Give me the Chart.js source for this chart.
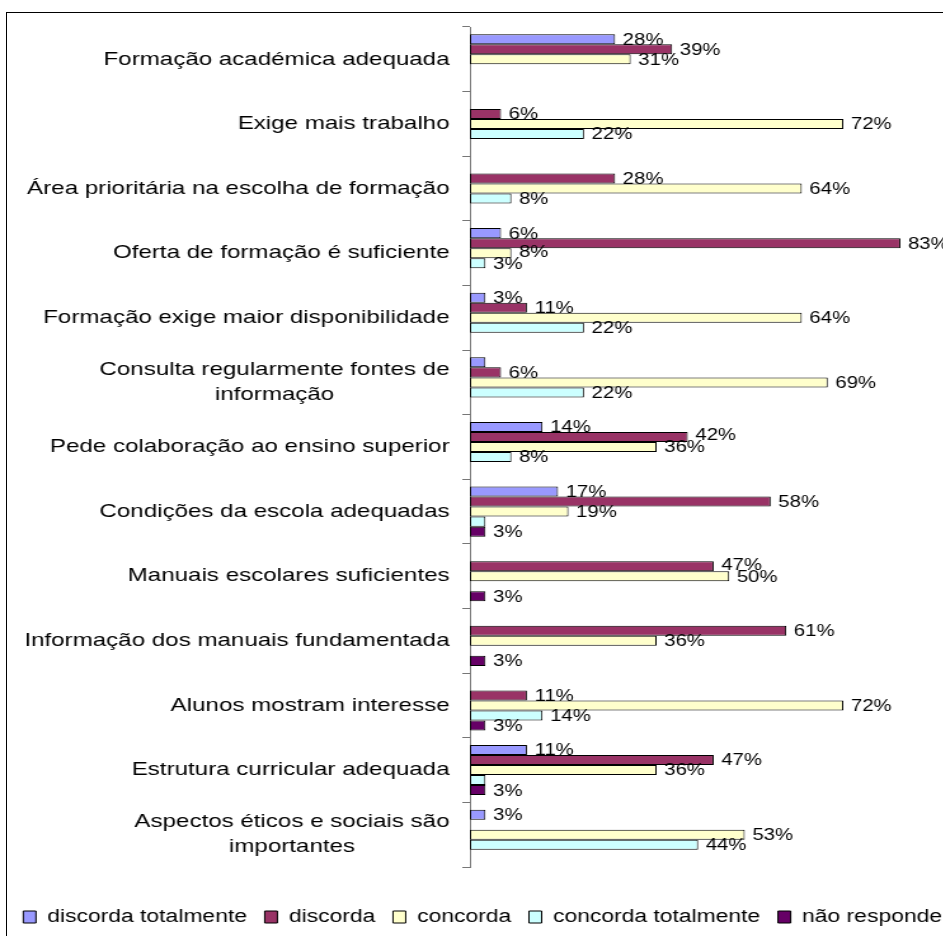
<!DOCTYPE html>
<html>
<head>
<meta charset="utf-8">
<script src="https://cdn.jsdelivr.net/npm/chart.js@4.4.1/dist/chart.umd.min.js"></script>
<style>
    html, body { margin: 0; padding: 0; background: #fff; overflow: hidden; width: 943px; height: 936px; }
    #frame { position: absolute; left: 6px; top: 12px; width: 1200px; height: 1200px; border: 1px solid #000; box-sizing: border-box; }
    /* the original picture is stretched sideways, so the chart is too */
    #wrap { position: absolute; left: 0; top: 0; width: 760px; height: 936px; transform: scaleX(1.27); transform-origin: 0 0; }
</style>
</head>
<body>
<div id="frame"></div>
<div id="wrap"><canvas id="chart"></canvas></div>
<script>
// ========== DATA ==========
const categories = [
    'Formação académica adequada',
    'Exige mais trabalho',
    'Área prioritária na escolha de formação',
    'Oferta de formação é suficiente',
    'Formação exige maior disponibilidade',
    ['Consulta regularmente fontes de', 'informação'],
    'Pede colaboração ao ensino superior',
    'Condições da escola adequadas',
    'Manuais escolares suficientes',
    'Informação dos manuais fundamentada',
    'Alunos mostram interesse',
    'Estrutura curricular adequada',
    ['Aspectos éticos e sociais são', 'importantes']
];
const seriesNames = ['discorda totalmente', 'discorda', 'concorda', 'concorda totalmente', 'não responde'];
const discordaTotalmente = [28, 0, 0, 6, 3, 3, 14, 17, 0, 0, 0, 11, 3];
const discorda           = [39, 6, 28, 83, 11, 6, 42, 58, 47, 61, 11, 47, 0];
const concorda           = [31, 72, 64, 8, 64, 69, 36, 19, 50, 36, 72, 36, 53];
const concordaTotalmente = [0, 22, 8, 3, 22, 22, 8, 3, 0, 0, 14, 3, 44];
const naoResponde        = [0, 0, 0, 0, 0, 0, 0, 3, 3, 3, 3, 3, 0];

const SERIES = [discordaTotalmente, discorda, concorda, concordaTotalmente, naoResponde];
const FILLS = ['#9999FF', '#993366', '#FFFFCC', '#CCFFFF', '#660066'];
const FONT = '"Liberation Sans", Arial, sans-serif';
const X_MAX = 95.5; // value axis is hidden; picture is cut off on the right

// ========== PLUGINS ==========
// value labels right of each bar. Bottom bar first; a label that hits one already
// placed is moved up, or dropped when it belongs to a tiny bar near the axis.
const valueLabels = {
    id: 'valueLabels',
    afterDatasetsDraw(chart) {
        const ctx = chart.ctx;
        ctx.save();
        ctx.font = '16px ' + FONT;
        ctx.fillStyle = '#000';
        ctx.textBaseline = 'middle';
        const n = chart.data.labels.length;
        for (let j = 0; j < n; j++) {
            const placed = [];
            for (let i = chart.data.datasets.length - 1; i >= 0; i--) {
                const v = chart.data.datasets[i].data[j];
                if (!v) continue;
                const bar = chart.getDatasetMeta(i).data[j];
                const txt = v + '%';
                const x = bar.x + 6, w = ctx.measureText(txt).width;
                let y = bar.y + 1;
                const hit = placed.find(p => Math.abs(p.y - y) < 11 && x < p.x + p.w && p.x < x + w);
                if (hit) {
                    if (v <= 3) continue;
                    y = hit.y - 12;
                }
                placed.push({ x, y, w });
                ctx.fillText(txt, x, y);
            }
        }
        ctx.restore();
    }
};

// category names: right aligned block, lines centred inside it
const categoryLabels = {
    id: 'categoryLabels',
    afterDraw(chart) {
        const y = chart.scales.y, ctx = chart.ctx;
        ctx.save();
        ctx.font = '19px ' + FONT;
        ctx.fillStyle = '#000';
        ctx.textBaseline = 'middle';
        ctx.textAlign = 'center';
        const right = y.right - 16;
        chart.data.labels.forEach((lab, i) => {
            const lines = Array.isArray(lab) ? lab : [lab];
            const w = Math.max(...lines.map(l => ctx.measureText(l).width));
            const cy = y.getPixelForTick(i);
            lines.forEach((l, k) => ctx.fillText(l, right - w / 2, cy + (k - (lines.length - 1) / 2) * 25));
        });
        ctx.restore();
    }
};

// ========== CHART ==========
new Chart(document.getElementById('chart'), {
    type: 'bar',
    data: {
        labels: categories,
        datasets: SERIES.map((vals, i) => ({
            label: seriesNames[i],
            data: vals.map(v => v || null),
            backgroundColor: FILLS[i],
            borderColor: '#000',
            borderWidth: 1,
            borderSkipped: false,
            categoryPercentage: 0.775,
            barPercentage: 1
        }))
    },
    options: {
        indexAxis: 'y',
        responsive: true,
        maintainAspectRatio: false,
        animation: false,
        layout: { padding: { top: 27, right: 0, left: 0, bottom: 0 } },
        plugins: {
            legend: {
                position: 'bottom',
                labels: {
                    color: '#000',
                    font: { family: FONT, size: 18 },
                    boxWidth: 10, boxHeight: 12, padding: 14
                }
            },
            tooltip: { enabled: false }
        },
        scales: {
            x: {
                min: 0, max: X_MAX,
                grid: { display: false },
                border: { display: false },
                ticks: { display: false },
                afterFit: s => { s.height = 27; }
            },
            y: {
                grid: { drawOnChartArea: false, drawTicks: true, tickLength: 6, color: '#777', offset: true },
                border: { color: '#777' },
                ticks: { display: false },
                afterFit: s => { s.width = 370; }
            }
        }
    },
    plugins: [valueLabels, categoryLabels]
});
</script>
</body>
</html>
